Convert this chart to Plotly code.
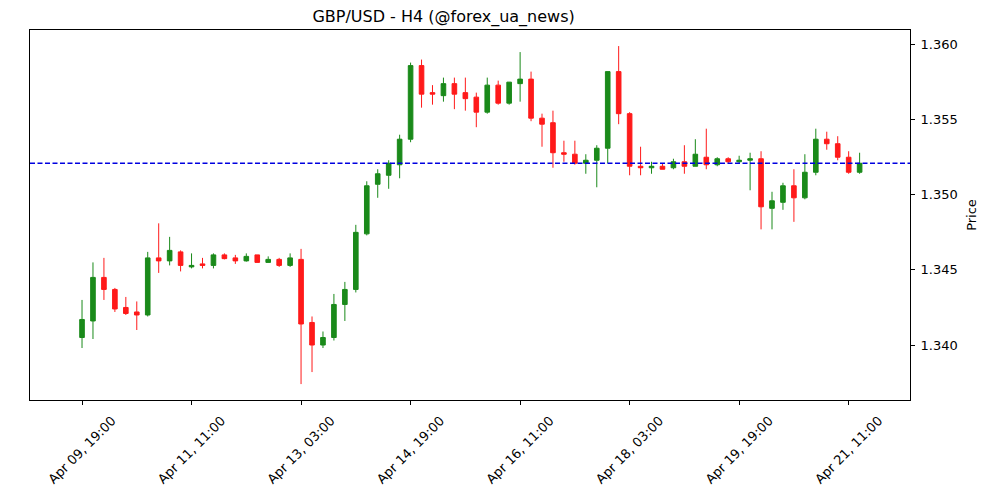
import plotly.graph_objects as go

title = "GBP/USD - H4 (@forex_ua_news)"

opens = [1.3405, 1.3416, 1.3445, 1.3437, 1.3425, 1.3422, 1.3420, 1.3458, 1.3456, 1.3462,
         1.3452, 1.3454, 1.3453, 1.3460, 1.3458, 1.3456, 1.3460, 1.3455, 1.3457, 1.3453,
         1.3457, 1.3415, 1.3400, 1.3405, 1.3427, 1.3437, 1.3474, 1.3507, 1.3513, 1.3520,
         1.3537, 1.3586, 1.3568, 1.3566, 1.3574, 1.3568, 1.3565, 1.3555, 1.3573, 1.3561,
         1.3574, 1.3577, 1.3551, 1.3548, 1.3528, 1.3527, 1.3521, 1.3523, 1.3531, 1.3582,
         1.3554, 1.3519, 1.3518, 1.3519, 1.3518, 1.3522, 1.3519, 1.3525, 1.3520, 1.3524,
         1.3522, 1.3523, 1.3524, 1.3491, 1.3495, 1.3506, 1.3498, 1.3515, 1.3537, 1.3534,
         1.3525, 1.3515]
highs = [1.3430, 1.3455, 1.3458, 1.3438, 1.3432, 1.3429, 1.3462, 1.3481, 1.3472, 1.3463,
         1.3461, 1.3458, 1.3461, 1.3461, 1.3460, 1.3461, 1.3460, 1.3459, 1.3458, 1.3461,
         1.3464, 1.3419, 1.3409, 1.3434, 1.3442, 1.3480, 1.3509, 1.3517, 1.3523, 1.3540,
         1.3588, 1.3590, 1.3573, 1.3578, 1.3578, 1.3578, 1.3568, 1.3578, 1.3576, 1.3575,
         1.3595, 1.3582, 1.3554, 1.3556, 1.3536, 1.3536, 1.3527, 1.3533, 1.3582, 1.3599,
         1.3555, 1.3532, 1.3522, 1.3521, 1.3524, 1.3533, 1.3537, 1.3544, 1.3525, 1.3525,
         1.3526, 1.3528, 1.3529, 1.3502, 1.3508, 1.3517, 1.3527, 1.3544, 1.3542, 1.3539,
         1.3529, 1.3528]
lows = [1.3398, 1.3404, 1.3430, 1.3422, 1.3420, 1.3410, 1.3419, 1.3448, 1.3453, 1.3449,
        1.3451, 1.3451, 1.3451, 1.3457, 1.3454, 1.34555, 1.3455, 1.3455, 1.3452, 1.3452,
        1.3374, 1.3382, 1.3398, 1.3403, 1.3416, 1.3435, 1.3473, 1.3498, 1.3504, 1.3511,
        1.3535, 1.3558, 1.3560, 1.3562, 1.3557, 1.3556, 1.3545, 1.3554, 1.3560, 1.3560,
        1.3562, 1.3549, 1.3532, 1.3518, 1.3522, 1.3520, 1.3514, 1.3505, 1.3521, 1.3547,
        1.3513, 1.3513, 1.3514, 1.3517, 1.3517, 1.3514, 1.3519, 1.3517, 1.3519, 1.3521,
        1.3521, 1.3503, 1.3477, 1.3477, 1.3490, 1.3482, 1.3497, 1.3513, 1.3530, 1.3523,
        1.3514, 1.3514]
closes = [1.3417, 1.3445, 1.3437, 1.3424, 1.3421, 1.3420, 1.3458, 1.3456, 1.3463, 1.3453,
          1.3453, 1.3453, 1.3460, 1.34575, 1.3456, 1.3459, 1.3455, 1.3457, 1.3453, 1.3458,
          1.3414, 1.3400, 1.3405, 1.3427, 1.3437, 1.3475, 1.3506, 1.3514, 1.3521, 1.3537,
          1.3586, 1.3567, 1.3567, 1.3574, 1.3567, 1.3564, 1.3555, 1.3573, 1.3561, 1.3575,
          1.3577, 1.3551, 1.3547, 1.3528, 1.3527, 1.3521, 1.3523, 1.3531, 1.3582, 1.3554,
          1.3519, 1.3518, 1.3519, 1.3517, 1.3522, 1.3519, 1.3527, 1.3520, 1.3524, 1.3522,
          1.3523, 1.3524, 1.3492, 1.3496, 1.3506, 1.3498, 1.3515, 1.3537, 1.3534, 1.3525,
          1.3515, 1.3521]

tick_labels = ["Apr 09, 19:00", "Apr 11, 11:00", "Apr 13, 03:00", "Apr 14, 19:00",
               "Apr 16, 11:00", "Apr 18, 03:00", "Apr 19, 19:00", "Apr 21, 11:00"]
tick_index = list(range(0, 10 * len(tick_labels), 10))
y_ticks = [1.340, 1.345, 1.350, 1.355, 1.360]

x = list(range(len(opens)))

UP = "#1a8a1a"
DOWN = "#ff1a1a"
FONT = "DejaVu Sans"

fig = go.Figure()
fig.add_trace(go.Candlestick(
    x=x, open=opens, high=highs, low=lows, close=closes,
    increasing=dict(line=dict(color=UP, width=1), fillcolor=UP),
    decreasing=dict(line=dict(color=DOWN, width=1), fillcolor=DOWN),
    whiskerwidth=0, showlegend=False, hoverinfo="skip",
))
fig.add_hline(y=closes[-1], line=dict(color="#0000e0", width=1.4, dash="5px,2.5px"))

fig.update_layout(
    width=1000, height=500,
    margin=dict(l=30, r=90, t=30, b=100),
    paper_bgcolor="white", plot_bgcolor="white",
    boxgap=0.4,
    font=dict(family=FONT, size=13, color="black"),
    title=dict(text=title, x=0.47, xref="paper", y=1 - 16 / 500, yref="container",
               xanchor="center", yanchor="middle", font=dict(size=16, family=FONT)),
    showlegend=False,
)
fig.update_xaxes(
    range=[-4.75, 75.6], rangeslider=dict(visible=False), automargin=False,
    tickmode="array", tickvals=tick_index, ticktext=tick_labels,
    tickangle=-45, ticks="outside", ticklen=4, tickcolor="black",
    showline=True, linecolor="black", linewidth=1, mirror=True,
    showgrid=False, zeroline=False, ticklabelshift=30, ticklabelstandoff=3,
    tickfont=dict(size=13, family=FONT),
)
fig.update_yaxes(
    side="right", range=[1.33634, 1.36097], automargin=False,
    tickmode="array", tickvals=y_ticks, tickformat=".3f",
    ticks="outside", ticklen=4, tickcolor="black",
    showline=True, linecolor="black", linewidth=1, mirror=True,
    showgrid=False, zeroline=False,
    tickfont=dict(size=13, family=FONT), ticklabelstandoff=3,
    title=dict(text="Price", standoff=10, font=dict(size=13, family=FONT)),
)

fig.write_html("out.html")
